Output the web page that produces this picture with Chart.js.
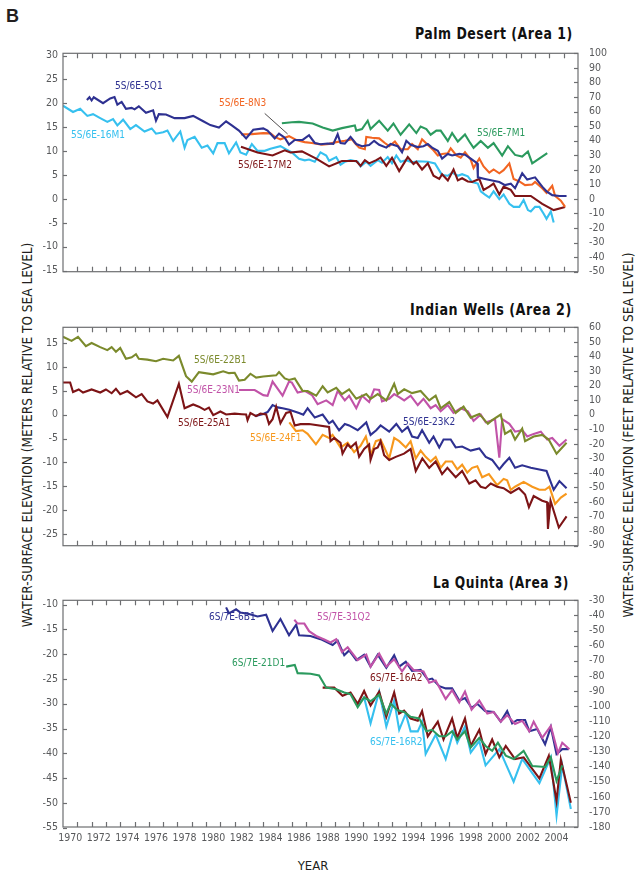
<!DOCTYPE html>
<html>
<head>
<meta charset="utf-8">
<script src="https://cdn.jsdelivr.net/npm/chart.js@4.4.1/dist/chart.umd.min.js"></script>
<style>
  html, body { margin: 0; padding: 0; background: #fff; }
  #fig { position: relative; width: 637px; height: 876px; overflow: hidden;
         font-family: "Liberation Sans Narrow", "DejaVu Sans Condensed", "Arial Narrow", sans-serif; color: #231f20; }
  #fig canvas { position: absolute; left: 0; }
  .lab { position: absolute; font-size: 10px; line-height: 10px; white-space: nowrap; transform: translateY(-50%); }
  .ttl { position: absolute; font-weight: bold; font-size: 16px; line-height: 16px; letter-spacing: 0.6px; white-space: nowrap;
         color: #111; transform-origin: 100% 50%; }
  .ytitle { position: absolute; font-size: 13.5px; line-height: 14px; white-space: nowrap; color: #231f20;
            transform: translate(-50%, -50%) rotate(-90deg); }
</style>
</head>
<body>
<div id="fig">
  <div style="position:absolute;left:6px;top:6px;font:bold 18px 'Liberation Sans',Arial,sans-serif;">B</div>

  <div class="ttl" data-w="158" style="right:64px;top:26px;">Palm Desert (Area 1)</div>
  <div class="ttl" data-w="162" style="right:65px;top:302px;">Indian Wells (Area 2)</div>
  <div class="ttl" data-w="136" style="right:68px;top:575px;">La Quinta (Area 3)</div>

  <div class="ytitle" style="left:27px;top:435px;">WATER-SURFACE ELEVATION (METERS RELATIVE TO SEA LEVEL)</div>
  <div class="ytitle" style="left:628px;top:435px;">WATER-SURFACE ELEVATION (FEET RELATIVE TO SEA LEVEL)</div>
  <div style="position:absolute;left:313px;top:865px;transform:translate(-50%,-50%);font-size:13px;">YEAR</div>

  <canvas id="p1"></canvas>
  <canvas id="p2"></canvas>
  <canvas id="p3"></canvas>

  <div class="lab" style="left:115px;top:86px;color:#2e3191;">5S/6E-5Q1</div>
  <div class="lab" style="left:219px;top:103px;color:#f26522;">5S/6E-8N3</div>
  <div class="lab" style="left:71px;top:135px;color:#36c0ef;">5S/6E-16M1</div>
  <div class="lab" style="left:238px;top:165px;color:#7d1416;">5S/6E-17M2</div>
  <div class="lab" style="left:477px;top:133px;color:#2b9a5e;">5S/6E-7M1</div>

  <div class="lab" style="left:194px;top:360px;color:#7b8a2c;">5S/6E-22B1</div>
  <div class="lab" style="left:187px;top:390px;color:#c153a8;">5S/6E-23N1</div>
  <div class="lab" style="left:178px;top:423px;color:#7d1416;">5S/6E-25A1</div>
  <div class="lab" style="left:250px;top:438px;color:#f7981d;">5S/6E-24F1</div>
  <div class="lab" style="left:403px;top:422px;color:#2e3191;">5S/6E-23K2</div>

  <div class="lab" style="left:209px;top:617px;color:#2e3191;">6S/7E-6B1</div>
  <div class="lab" style="left:317px;top:617px;color:#c153a8;">5S/7E-31Q2</div>
  <div class="lab" style="left:232px;top:663px;color:#2b9a5e;">6S/7E-21D1</div>
  <div class="lab" style="left:370px;top:678px;color:#7d1416;">6S/7E-16A2</div>
  <div class="lab" style="left:370px;top:742px;color:#36c0ef;">6S/7E-16R2</div>
</div>

<script>
// ── Axes ─────────────────────────────────────────────
const X_MIN = 1970, X_MAX = 2006;
const YEAR_LABELS = [1970, 1972, 1974, 1976, 1978, 1980, 1982, 1984, 1986, 1988,
                     1990, 1992, 1994, 1996, 1998, 2000, 2002, 2004];
const FT_PER_M = 3.2808;

const P1_FT_TICKS = [100, 90, 80, 70, 60, 50, 40, 30, 20, 10, 0, -10, -20, -30, -40, -50];
const P1_M_TICKS  = [30, 25, 20, 15, 10, 5, 0, -5, -10, -15];
const P2_FT_TICKS = [60, 50, 40, 30, 20, 10, 0, -10, -20, -30, -40, -50, -60, -70, -80, -90];
const P2_M_TICKS  = [15, 10, 5, 0, -5, -10, -15, -20, -25];
const P3_FT_TICKS = [-30, -40, -50, -60, -70, -80, -90, -100, -110, -120, -130, -140, -150, -160, -170, -180];
const P3_M_TICKS  = [-10, -15, -20, -25, -30, -35, -40, -45, -50, -55];

// ── Palm Desert (Area 1), [year, feet] ───────────────
const W_5Q1 = [[1971.67,67.9],[1971.85,69.8],[1972.0,67.6],[1972.15,69.8],[1972.8,65.7],[1973.3,69.0],[1973.6,70.0],[1973.8,64.7],[1974.1,66.6],[1974.4,61.9],
  [1974.8,62.5],[1975.0,61.5],[1975.3,63.6],[1975.8,59.1],[1976.3,60.8],[1976.5,53.7],[1976.7,58.2],[1977.2,58.0],[1977.8,55.5],[1978.5,55.5],
  [1979.1,57.0],[1979.8,53.3],[1980.3,50.7],[1980.9,49.0],[1981.4,53.3],[1981.8,50.5],[1982.3,46.9],[1982.8,41.5],[1983.3,47.5],[1984.0,48.4],
  [1984.3,46.9],[1984.8,41.5],[1985.1,44.8],[1985.5,42.0],[1985.8,37.3],[1986.2,40.5],[1986.75,40.5],[1987.2,43.7],[1987.6,38.4],[1988.0,37.5],
  [1988.5,38.0],[1988.9,37.8],[1989.2,44.4],[1989.4,38.4],[1989.7,38.0],[1990.1,42.6],[1990.5,37.7],[1990.9,36.2],[1991.4,37.0],[1991.75,39.9],
  [1992.1,37.2],[1992.6,35.2],[1992.9,37.7],[1993.4,36.2],[1993.7,32.0],[1994.0,39.9],[1994.3,37.2],[1994.8,35.6],[1995.2,36.2],[1995.5,37.7],
  [1995.8,35.2],[1996.2,33.0],[1996.5,27.7],[1996.9,30.9],[1997.2,29.8],[1997.7,30.9],[1998.1,30.4],[1998.5,27.7],[1998.96,24.4],[1999.0,14.8],
  [1999.5,13.7],[2000.0,12.6],[2000.5,11.6],[2000.9,9.5],[2001.3,10.5],[2001.6,7.3],[2002.1,17.6],[2002.45,13.3],[2003.0,14.8],[2003.5,8.4],
  [2003.8,5.2],[2004.2,2.6],[2004.7,2.0],[2005.2,2.0]];
const W_8N3 = [[1982.44,44.3],[1983.2,44.5],[1984.0,45.2],[1984.5,45.0],[1984.8,42.6],[1985.2,40.9],[1985.8,43.1],[1986.3,40.5],[1986.9,39.0],[1987.4,38.4],
  [1988.1,37.3],[1988.6,37.8],[1989.1,39.0],[1989.7,39.9],[1990.0,40.5],[1990.2,41.0],[1990.4,38.4],[1990.7,35.2],[1991.1,34.1],[1991.2,42.6],
  [1991.6,42.0],[1992.1,41.6],[1992.5,38.4],[1992.8,36.2],[1993.2,39.4],[1993.6,34.1],[1994.1,34.1],[1994.4,37.7],[1994.8,34.1],[1995.1,40.9],
  [1995.6,36.2],[1995.9,33.4],[1996.2,29.8],[1996.5,30.9],[1996.9,31.3],[1997.1,34.7],[1997.5,29.8],[1997.8,28.3],[1998.1,32.0],[1998.5,27.0],
  [1998.7,21.2],[1999.1,27.7],[1999.4,22.3],[1999.8,18.0],[2000.1,20.2],[2000.5,17.6],[2000.8,19.7],[2001.2,24.4],[2001.5,13.7],[2001.9,12.0],
  [2002.3,9.5],[2002.8,9.9],[2003.0,11.6],[2003.5,7.3],[2003.8,4.1],[2004.2,9.0],[2004.4,2.0],[2004.8,-1.2],[2005.1,-5.5]];
const W_17M2 = [[1982.44,35.8],[1983.6,31.9],[1984.65,29.8],[1985.5,33.4],[1985.9,31.9],[1986.7,32.6],[1987.7,27.7],[1988.6,22.3],[1989.5,26.0],[1990.5,26.0],
  [1990.8,22.7],[1991.1,26.6],[1991.4,24.4],[1991.9,26.6],[1992.2,28.3],[1992.6,22.7],[1993.0,28.3],[1993.5,19.1],[1994.1,28.7],[1994.5,24.0],
  [1994.7,25.5],[1995.1,20.2],[1995.5,24.4],[1995.9,15.9],[1996.3,13.7],[1996.5,16.9],[1996.9,12.7],[1997.3,20.2],[1997.6,12.7],[1997.9,14.2],
  [1998.3,12.0],[1998.6,11.6],[1999.1,13.7],[1999.4,6.2],[1999.8,8.4],[2000.1,10.5],[2000.5,3.0],[2000.8,8.4],[2001.3,6.2],[2001.6,2.0],
  [2002.7,2.0],[2003.5,-3.4],[2004.3,-7.7],[2005.1,-5.5]];
const W_7M1 = [[1985.3,52.0],[1986.0,52.6],[1986.5,52.9],[1987.45,51.8],[1988.15,49.0],[1988.85,46.9],[1989.5,48.6],[1990.4,50.5],[1990.5,46.9],[1990.9,48.0],
  [1991.3,53.7],[1991.5,48.0],[1992.1,53.7],[1992.7,46.9],[1993.1,51.8],[1993.6,44.1],[1994.2,51.2],[1994.7,45.2],[1995.0,49.7],[1995.4,48.0],
  [1995.7,44.1],[1996.1,46.9],[1996.4,46.9],[1996.9,39.8],[1997.2,45.2],[1997.6,39.4],[1998.1,44.3],[1998.4,39.4],[1998.7,35.1],[1999.2,39.8],
  [1999.7,35.1],[2000.1,38.3],[2000.7,29.8],[2001.1,36.2],[2001.6,30.2],[2002.1,29.1],[2002.5,32.5],[2002.8,24.4],[2003.85,31.5]];
const W_16M1 = [[1970.0,64.0],[1970.7,59.7],[1971.2,61.9],[1971.7,57.0],[1972.1,58.2],[1972.6,55.5],[1973.1,52.9],[1973.5,54.8],[1973.8,50.5],[1974.2,54.4],
  [1974.7,48.0],[1975.1,50.7],[1975.7,46.3],[1976.2,48.4],[1976.5,44.8],[1977.0,45.8],[1977.3,46.9],[1977.7,39.8],[1978.2,46.3],[1978.5,35.1],
  [1978.7,40.5],[1979.2,42.6],[1979.7,35.1],[1980.1,36.6],[1980.5,31.3],[1980.8,38.3],[1981.3,38.3],[1981.6,31.3],[1982.1,38.8],[1982.4,31.9],
  [1982.8,30.4],[1983.2,37.7],[1983.6,33.0],[1984.1,33.0],[1984.5,34.5],[1985.2,36.2],[1985.6,34.0],[1986.0,31.9],[1986.5,27.6],[1986.9,26.5],
  [1987.2,27.0],[1987.6,25.5],[1988.0,32.0],[1988.4,29.8],[1988.6,26.2],[1989.1,28.7],[1989.4,23.4],[1989.7,25.5],[1990.1,26.6],[1990.6,25.5],
  [1990.8,22.3],[1991.2,25.5],[1991.5,22.7],[1992.0,26.6],[1992.3,24.9],[1992.7,28.7],[1993.0,24.5],[1993.3,29.8],[1993.6,25.5],[1994.0,26.6],
  [1994.4,25.1],[1994.8,25.9],[1995.5,25.5],[1996.0,24.4],[1996.5,16.3],[1996.9,15.9],[1997.2,18.0],[1997.6,15.9],[1997.9,17.0],[1998.3,15.5],
  [1998.6,11.6],[1999.0,10.5],[1999.2,5.2],[1999.5,3.0],[1999.8,0.9],[2000.1,5.2],[2000.5,-0.2],[2000.8,3.0],[2001.2,-3.4],[2001.5,-5.5],
  [2001.9,-5.5],[2002.2,-0.8],[2002.5,-7.7],[2002.7,-8.7],[2003.0,-5.5],[2003.3,-5.5],[2003.6,-10.2],[2003.8,-13.7],[2004.1,-8.7],[2004.3,-16.2]];

// ── Indian Wells (Area 2) ────────────────────────────
const W_22B1 = [[1970.0,53.5],[1970.6,50.7],[1971.05,53.5],[1971.6,47.1],[1972.0,49.2],[1972.6,46.4],[1973.1,44.3],[1973.4,46.4],[1973.7,43.2],[1974.0,45.8],
  [1974.4,38.4],[1974.8,39.4],[1975.1,41.5],[1975.3,38.4],[1975.9,37.8],[1976.5,36.7],[1977.0,38.4],[1977.7,37.2],[1978.1,40.4],[1978.6,26.4],
  [1979.0,22.7],[1979.5,29.2],[1980.5,27.7],[1981.2,29.8],[1981.6,28.5],[1982.0,28.8],[1982.3,23.4],[1982.7,24.0],[1983.1,28.1],[1983.5,25.5],
  [1984.0,26.2],[1984.9,27.0],[1985.1,29.2],[1985.5,24.9],[1985.8,23.8],[1986.2,24.9],[1986.75,16.3],[1987.1,16.2],[1987.7,13.0],[1988.15,19.5],
  [1988.5,15.2],[1989.1,18.4],[1989.5,14.1],[1990.0,17.4],[1990.5,10.9],[1991.2,14.1],[1991.5,10.9],[1992.0,14.1],[1992.6,9.8],[1993.15,21.2],
  [1993.4,14.1],[1993.85,17.4],[1994.4,14.8],[1995.0,16.3],[1995.6,9.8],[1996.05,13.0],[1996.4,4.4],[1997.0,8.7],[1997.45,1.2],[1998.0,5.5],
  [1998.5,-2.0],[1999.1,0.5],[1999.7,-6.3],[2000.0,-3.8],[2000.6,0.1],[2000.9,-13.2],[2001.3,-10.7],[2001.6,-17.1],[2002.1,-9.6],[2002.3,-18.2],
  [2002.9,-15.0],[2003.5,-13.9],[2003.95,-17.1],[2004.5,-26.8],[2005.2,-19.3]];
const W_23N1 = [[1982.3,16.9],[1983.4,16.9],[1984.0,13.4],[1984.3,13.0],[1984.65,22.7],[1985.35,13.0],[1985.8,22.7],[1986.0,22.0],[1986.4,15.2],[1986.9,16.3],
  [1987.4,13.5],[1987.8,7.2],[1988.4,9.8],[1988.85,6.6],[1989.2,16.3],[1989.7,9.8],[1990.0,13.0],[1990.5,4.4],[1990.9,13.0],[1991.4,8.7],
  [1991.75,17.4],[1992.1,17.0],[1992.3,9.2],[1992.8,10.9],[1993.15,14.1],[1993.5,12.0],[1993.85,9.8],[1994.3,13.0],[1994.8,6.6],[1995.2,10.9],
  [1995.7,4.4],[1996.05,6.6],[1996.4,2.3],[1996.9,6.6],[1997.3,1.2],[1997.8,4.4],[1998.3,2.3],[1998.7,-4.2],[1999.2,0.1],[1999.55,-5.3],
  [1999.9,-4.2],[2000.2,-3.1],[2000.5,-29.6],[2000.7,-3.1],[2001.2,-6.3],[2001.6,-11.7],[2002.1,-10.7],[2002.45,-15.0],[2002.9,-13.2],[2003.4,-11.7],
  [2003.85,-17.1],[2004.2,-16.0],[2004.7,-21.4],[2005.2,-17.1]];
const W_25A1 = [[1970.0,22.1],[1970.5,22.1],[1970.7,15.6],[1971.1,17.3],[1971.4,15.2],[1972.0,17.3],[1972.6,15.2],[1973.0,17.3],[1973.4,14.7],[1973.7,17.8],
  [1974.0,14.1],[1974.5,16.2],[1975.1,11.9],[1975.5,14.1],[1975.9,9.1],[1976.3,7.6],[1976.6,9.8],[1977.3,-1.6],[1978.1,21.2],[1978.5,4.4],
  [1979.1,7.0],[1979.5,5.5],[1979.9,3.3],[1980.2,4.8],[1980.5,-0.3],[1981.0,2.2],[1981.4,0.1],[1982.0,0.7],[1982.5,0.3],[1982.8,0.1],
  [1982.9,-3.8],[1983.1,1.1],[1983.5,-1.0],[1983.8,0.8],[1984.2,0.1],[1984.4,-6.4],[1984.65,-3.1],[1984.9,5.5],[1985.2,-5.9],[1985.6,1.2],
  [1985.9,2.0],[1986.2,-7.5],[1986.6,-6.5],[1987.2,-6.4],[1988.6,-8.5],[1988.7,-18.2],[1988.96,-16.0],[1989.4,-19.3],[1989.54,-26.8],[1989.9,-20.4],
  [1990.1,-22.5],[1990.47,-19.3],[1990.7,-29.0],[1991.05,-23.6],[1991.4,-20.4],[1991.5,-31.1],[1991.75,-23.6],[1992.0,-22.5],[1992.2,-18.2],[1992.45,-27.9],
  [1992.8,-31.1],[1993.26,-29.0],[1993.84,-26.8],[1994.3,-23.6],[1994.66,-38.7],[1995.12,-30.1],[1995.6,-36.5],[1996.05,-32.2],[1996.5,-40.8],[1996.87,-36.5],
  [1997.45,-43.0],[1997.9,-38.7],[1998.4,-47.3],[1998.84,-45.1],[1999.2,-49.5],[1999.54,-50.5],[1999.9,-47.3],[2000.35,-49.5],[2000.8,-50.5],[2001.3,-53.8],
  [2001.87,-50.5],[2002.3,-54.8],[2002.57,-63.5],[2002.9,-55.9],[2003.5,-59.1],[2003.84,-60.2],[2003.9,-78.5],[2004.08,-59.1],[2004.66,-77.5],[2005.2,-69.9]];
const W_23K2 = [[1983.4,-1.0],[1984.0,0.5],[1984.3,1.8],[1984.65,6.6],[1985.0,5.0],[1985.35,4.4],[1985.82,3.4],[1986.5,1.2],[1986.8,0.0],[1987.1,4.4],
  [1987.6,-2.0],[1988.15,0.1],[1988.6,-5.9],[1988.85,-4.2],[1989.3,-10.7],[1989.7,-6.4],[1990.0,-7.4],[1990.6,-10.7],[1991.2,-5.3],[1991.5,-13.9],
  [1991.9,-10.7],[1992.2,-7.4],[1992.8,-11.7],[1993.3,-6.4],[1993.7,-11.7],[1994.1,-8.5],[1994.4,-15.0],[1994.8,-16.0],[1995.1,-10.7],[1995.6,-19.3],
  [1995.9,-15.0],[1996.3,-22.5],[1996.6,-17.1],[1997.1,-17.1],[1997.45,-22.5],[1997.9,-21.9],[1998.5,-24.7],[1999.1,-23.2],[1999.55,-29.0],[2000.0,-31.1],
  [2000.5,-37.6],[2000.8,-33.9],[2001.2,-29.6],[2001.6,-36.5],[2002.1,-34.8],[2002.7,-36.5],[2003.3,-37.6],[2003.8,-38.7],[2004.3,-51.6],[2004.7,-45.6],
  [2005.2,-50.5]];
const W_24F1 = [[1985.82,-5.3],[1986.29,-11.3],[1986.75,-10.7],[1987.1,-13.2],[1987.68,-20.4],[1988.15,-13.9],[1988.6,-16.0],[1988.84,-13.9],[1989.4,-22.5],[1989.9,-19.3],
  [1990.35,-25.7],[1990.8,-21.4],[1991.17,-15.0],[1991.5,-27.9],[1991.87,-18.2],[1992.2,-17.1],[1992.56,-24.7],[1992.8,-30.1],[1993.15,-16.0],[1993.5,-18.2],
  [1993.96,-22.5],[1994.3,-18.2],[1994.66,-30.1],[1995.0,-24.7],[1995.35,-29.0],[1995.7,-32.2],[1996.05,-29.0],[1996.4,-36.5],[1996.75,-32.2],[1997.2,-32.2],
  [1997.56,-37.6],[1997.9,-34.4],[1998.26,-39.8],[1998.6,-36.5],[1998.96,-35.4],[1999.3,-43.0],[1999.77,-40.8],[2000.35,-48.4],[2000.8,-44.1],[2001.05,-45.1],
  [2001.3,-51.6],[2001.6,-49.5],[2002.2,-46.2],[2002.8,-49.5],[2003.3,-51.6],[2003.7,-51.6],[2004.0,-49.5],[2004.4,-61.3],[2004.8,-57.0],[2005.2,-54.2]];

// ── La Quinta (Area 3) ───────────────────────────────
const W_6B1 = [[1981.4,-34.7],[1981.6,-38.6],[1982.1,-36.0],[1982.4,-38.1],[1983.0,-39.0],[1983.6,-40.7],[1984.2,-39.6],[1984.65,-50.3],[1985.2,-42.4],[1985.8,-53.1],
  [1986.3,-46.1],[1986.5,-53.1],[1987.3,-53.6],[1988.0,-55.7],[1988.4,-57.4],[1988.85,-59.6],[1989.2,-56.8],[1989.66,-66.4],[1990.0,-63.2],[1990.5,-69.6],
  [1991.05,-66.0],[1991.5,-73.9],[1992.0,-66.0],[1992.6,-74.6],[1993.15,-66.4],[1993.5,-73.9],[1993.96,-70.7],[1994.4,-76.7],[1995.0,-76.1],[1995.5,-82.5],
  [1995.8,-81.8],[1996.3,-86.8],[1996.75,-88.3],[1997.2,-88.3],[1997.7,-96.4],[1998.1,-94.7],[1998.56,-101.1],[1998.96,-98.5],[1999.5,-103.3],[2000.1,-103.9],
  [2000.6,-110.3],[2001.05,-103.3],[2001.4,-111.4],[2001.75,-109.2],[2002.3,-109.2],[2002.6,-116.7],[2003.15,-115.2],[2003.7,-125.3],[2004.1,-113.9],[2004.5,-131.7],
  [2004.9,-128.5],[2005.35,-128.5]];
const W_31Q2 = [[1986.17,-42.9],[1986.4,-45.4],[1986.87,-45.4],[1987.2,-50.4],[1987.7,-53.6],[1988.3,-56.1],[1988.7,-57.9],[1989.1,-55.7],[1989.5,-64.3],[1989.9,-61.1],
  [1990.6,-69.6],[1991.2,-66.0],[1991.5,-73.9],[1992.1,-65.3],[1992.6,-73.9],[1993.15,-69.0],[1993.7,-77.1],[1994.1,-71.8],[1994.5,-76.1],[1995.2,-77.1],
  [1995.6,-84.6],[1996.05,-83.1],[1996.75,-95.3],[1997.2,-89.5],[1997.7,-97.5],[1998.1,-90.4],[1998.56,-102.4],[1999.1,-96.4],[1999.66,-105.0],[2000.1,-103.9],
  [2000.6,-110.3],[2001.05,-106.0],[2001.6,-111.8],[2002.1,-109.7],[2002.6,-116.7],[2002.9,-110.3],[2003.5,-121.0],[2004.1,-113.1],[2004.6,-131.1],[2004.9,-124.2],
  [2005.4,-128.5]];
const W_21D1 = [[1985.6,-73.9],[1986.2,-72.8],[1986.4,-78.2],[1987.3,-78.6],[1987.9,-79.7],[1988.4,-87.8],[1989.1,-88.9],[1989.66,-91.0],[1990.1,-92.1],[1990.6,-100.7],
  [1991.05,-94.3],[1991.5,-96.8],[1992.1,-92.5],[1992.6,-105.0],[1992.9,-98.5],[1993.4,-102.8],[1993.84,-103.9],[1994.3,-107.1],[1994.9,-108.2],[1995.4,-116.7],
  [1995.8,-115.7],[1996.3,-120.0],[1996.75,-120.0],[1997.2,-116.7],[1997.56,-122.1],[1998.1,-116.7],[1998.5,-127.4],[1999.1,-121.0],[1999.54,-126.4],[2000.0,-129.6],
  [2000.4,-124.2],[2000.95,-132.8],[2001.5,-135.0],[2002.2,-129.6],[2002.8,-139.6],[2003.7,-140.3],[2004.1,-133.9],[2004.5,-149.5],[2004.9,-139.2]];
const W_16A2 = [[1988.15,-87.8],[1988.96,-87.8],[1989.54,-93.2],[1990.1,-91.0],[1990.6,-98.5],[1991.05,-90.0],[1991.5,-99.6],[1992.1,-90.4],[1992.6,-107.1],[1993.15,-91.0],
  [1993.5,-105.0],[1993.84,-103.0],[1994.3,-108.2],[1994.8,-109.7],[1995.1,-103.3],[1995.5,-120.0],[1996.2,-110.3],[1996.6,-122.1],[1997.2,-108.2],[1997.56,-121.0],
  [1998.1,-108.2],[1998.5,-126.4],[1999.1,-115.7],[1999.54,-131.7],[2000.0,-122.1],[2000.5,-133.9],[2000.95,-126.4],[2001.6,-135.0],[2002.2,-133.9],[2003.3,-147.8],
  [2003.96,-132.8],[2004.5,-162.8],[2004.8,-135.4],[2005.5,-163.9]];
const W_16R2 = [[1990.6,-99.6],[1991.05,-94.3],[1991.5,-111.4],[1992.1,-90.4],[1992.6,-113.5],[1993.15,-96.4],[1993.5,-115.7],[1993.96,-105.0],[1994.3,-116.7],[1994.8,-116.7],
  [1995.1,-110.3],[1995.35,-131.7],[1996.05,-118.9],[1996.75,-135.0],[1997.3,-116.7],[1997.56,-124.2],[1998.1,-113.5],[1998.5,-130.7],[1999.1,-123.2],[1999.54,-139.2],
  [2000.5,-128.5],[2000.95,-138.2],[2001.5,-150.0],[2002.1,-135.0],[2003.3,-151.0],[2004.1,-133.9],[2004.5,-172.4],[2004.9,-139.2],[2005.5,-168.1]];

// leader from the 8N3 label to its line
const LEADER_8N3 = [[1984.1, 58.7], [1985.7, 44.6]];

// ── Styles ───────────────────────────────────────────
const NARROW = '"Liberation Sans Narrow", "DejaVu Sans Condensed", "Arial Narrow", sans-serif';
const FRAME = '#6d6e71';
const TICK_TXT = '#58595b';
const C = {
  navy: '#2e3191', sky: '#36c0ef', orange: '#f26522', maroon: '#7d1416',
  green: '#2b9a5e', olive: '#7b8a2c', magenta: '#c153a8', amber: '#f7981d'
};

// frame + inward tick marks, drawn from the scales
const framePlugin = {
  id: 'frame',
  afterDraw(chart, args, opts) {
    const { ctx, chartArea: a, scales } = chart;
    const seg = (x1, y1, x2, y2) => { ctx.beginPath(); ctx.moveTo(x1, y1); ctx.lineTo(x2, y2); ctx.stroke(); };
    ctx.save();
    ctx.strokeStyle = FRAME;
    ctx.lineWidth = 1.2;
    ctx.strokeRect(a.left, a.top, a.right - a.left, a.bottom - a.top);
    for (let yr = X_MIN + 1; yr < X_MAX; yr++) {
      const x = Math.round(scales.x.getPixelForValue(yr)) + 0.5;
      seg(x, a.top, x, a.top + 5);
      seg(x, a.bottom, x, a.bottom - 5);
    }
    scales.yM.ticks.forEach(t => {
      const y = Math.round(scales.yM.getPixelForValue(t.value)) + 0.5;
      seg(a.left, y, a.left + 4, y);
    });
    scales.yFt.ticks.forEach(t => {
      const y = Math.round(scales.yFt.getPixelForValue(t.value)) + 0.5;
      seg(a.right, y, a.right - 4, y);
    });
    if (opts.leader) {
      const [p, q] = opts.leader;
      ctx.strokeStyle = '#231f20';
      ctx.lineWidth = 0.8;
      seg(scales.x.getPixelForValue(p[0]), scales.yFt.getPixelForValue(p[1]),
          scales.x.getPixelForValue(q[0]), scales.yFt.getPixelForValue(q[1]));
    }
    ctx.restore();
  }
};

function makePanel(id, plotTop, plotBottom, ftTicks, mTicks, series, showYears, leader) {
  const canvas = document.getElementById(id);
  const pad = 10, xh = showYears ? 30 : 0;
  canvas.width = 637;
  canvas.height = (plotBottom - plotTop) + pad + (showYears ? xh : pad);
  canvas.style.top = (plotTop - pad) + 'px';
  const ftMax = ftTicks[0], ftMin = ftTicks[ftTicks.length - 1];
  const tickFont = { family: NARROW, size: 10.5 };

  new Chart(canvas, {
    type: 'line',
    data: {
      datasets: series.map(s => ({
        data: s.pts.map(p => ({ x: p[0], y: p[1] })),
        borderColor: s.color,
        borderWidth: 2.1,
        pointRadius: 0,
        tension: 0,
        fill: false,
        yAxisID: 'yFt',
        borderJoinStyle: 'miter'
      }))
    },
    options: {
      responsive: false,
      animation: false,
      events: [],
      layout: { padding: { top: pad, bottom: showYears ? 0 : pad, left: 0, right: 0 } },
      plugins: { legend: { display: false }, tooltip: { enabled: false }, frame: { leader } },
      scales: {
        x: {
          type: 'linear', min: X_MIN, max: X_MAX,
          grid: { display: false, drawTicks: false }, border: { display: false },
          afterBuildTicks: s => { s.ticks = YEAR_LABELS.map(v => ({ value: v + 0.5 })); },
          ticks: { display: showYears, padding: 5, color: TICK_TXT, font: tickFont,
                   autoSkip: false, maxRotation: 0, callback: v => String(Math.floor(v)) },
          afterFit: s => { s.height = xh; }
        },
        yM: {
          type: 'linear', position: 'left', min: ftMin / FT_PER_M, max: ftMax / FT_PER_M,
          grid: { display: false, drawTicks: false }, border: { display: false },
          afterBuildTicks: s => { s.ticks = mTicks.map(v => ({ value: v })); },
          ticks: { padding: 5, color: TICK_TXT, font: tickFont, autoSkip: false, callback: v => String(v) },
          afterFit: s => { s.width = 63; }
        },
        yFt: {
          type: 'linear', position: 'right', min: ftMin, max: ftMax,
          grid: { display: false, drawTicks: false }, border: { display: false },
          afterBuildTicks: s => { s.ticks = ftTicks.map(v => ({ value: v })); },
          ticks: { padding: 11, color: TICK_TXT, font: tickFont, autoSkip: false, callback: v => String(v) },
          afterFit: s => { s.width = 59; }
        }
      }
    },
    plugins: [framePlugin]
  });
}

window.addEventListener('DOMContentLoaded', () => {
  // squeeze panel titles to the condensed width of the original lettering
  document.querySelectorAll('.ttl').forEach(el => {
    const k = Number(el.dataset.w) / el.offsetWidth;
    el.style.transform = 'scaleX(' + k.toFixed(3) + ')';
  });

  makePanel('p1', 46, 279, P1_FT_TICKS, P1_M_TICKS, [
    { pts: W_5Q1, color: C.navy },
    { pts: W_8N3, color: C.orange },
    { pts: W_17M2, color: C.maroon },
    { pts: W_7M1, color: C.green },
    { pts: W_16M1, color: C.sky }
  ], false, LEADER_8N3);

  makePanel('p2', 320, 553, P2_FT_TICKS, P2_M_TICKS, [
    { pts: W_25A1, color: C.maroon },
    { pts: W_22B1, color: C.olive },
    { pts: W_23N1, color: C.magenta },
    { pts: W_23K2, color: C.navy },
    { pts: W_24F1, color: C.amber }
  ], false, null);

  makePanel('p3', 593, 827, P3_FT_TICKS, P3_M_TICKS, [
    { pts: W_31Q2, color: C.magenta },
    { pts: W_6B1, color: C.navy },
    { pts: W_21D1, color: C.green },
    { pts: W_16A2, color: C.maroon },
    { pts: W_16R2, color: C.sky }
  ], true, null);
});
</script>
</body>
</html>
